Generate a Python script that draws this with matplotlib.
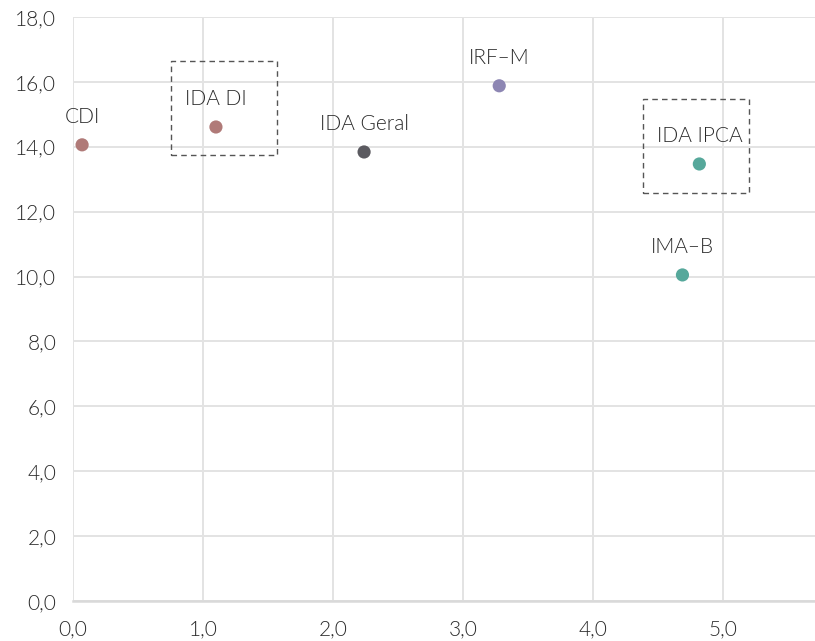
import matplotlib
matplotlib.use("Agg")
import matplotlib.pyplot as plt
from matplotlib.patches import Rectangle
from matplotlib.ticker import FuncFormatter, MultipleLocator

names = ["CDI", "IDA DI", "IDA Geral", "IRF-M", "IDA IPCA", "IMA-B"]
x_vals = [0.07, 1.10, 2.24, 3.28, 4.82, 4.69]
y_vals = [14.06, 14.61, 13.84, 15.88, 13.47, 10.05]
colors = ["#b07a78", "#b07a78", "#5b5a60", "#8d86b3", "#56a89b", "#56a89b"]
label_names = ["CDI", "IDA DI", "IDA Geral", "IRF\u2013M", "IDA IPCA", "IMA\u2013B"]

# highlight boxes (x0, y0, width, height) in data units
boxes = [(0.754, 13.75, 0.815, 2.90), (4.39, 12.59, 0.815, 2.87)]

plt.rcParams['font.family'] = ['Lato', 'DejaVu Sans']

fig = plt.figure(figsize=(8.15, 6.41), dpi=100)
ax = fig.add_axes([73/815, 1-601/641, 1-73/815, (601-17)/641])

ax.set_xlim(0, 5.71)
ax.set_ylim(0, 18)
ax.xaxis.set_major_locator(MultipleLocator(1))
ax.yaxis.set_major_locator(MultipleLocator(2))
fmt = FuncFormatter(lambda v, p: f"{v:.1f}".replace(".", ","))
ax.xaxis.set_major_formatter(fmt)
ax.yaxis.set_major_formatter(fmt)

ax.grid(True, color="#e3e3e3", linewidth=1.4, zorder=0)
ax.set_axisbelow(True)
for s in ["top", "right", "left"]:
    ax.spines[s].set_visible(False)
ax.spines["bottom"].set_color("#d9d9d9")
ax.spines["bottom"].set_linewidth(1.8)
ax.tick_params(length=0, labelsize=15, colors="#2b2b2b")
ax.tick_params(axis="x", pad=13)
ax.tick_params(axis="y", pad=12)
for t in ax.get_xticklabels() + ax.get_yticklabels():
    t.set_fontweight(300)

ax.scatter(x_vals, y_vals, c=colors, s=90, zorder=3, linewidths=0)

for xv, yv, lab in zip(x_vals, y_vals, label_names):
    ax.annotate(lab, (xv, yv), xytext=(0, 13), textcoords="offset points",
                ha="center", va="bottom", fontsize=15, color="#2b2b2b",
                fontweight=300)

for (bx, by, bw, bh) in boxes:
    ax.add_patch(Rectangle((bx, by), bw, bh, fill=False, edgecolor="#555555",
                           linestyle=(0, (4, 3)), linewidth=1.0, zorder=4))

fig.savefig("out.png", dpi=100)
